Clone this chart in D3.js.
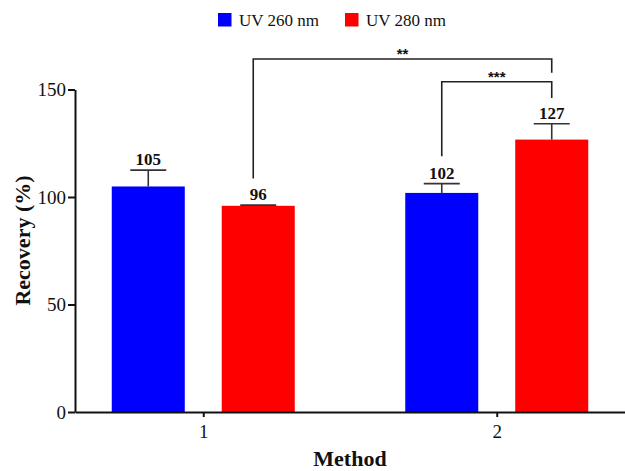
<!DOCTYPE html>
<html>
<head>
<meta charset="utf-8">
<script src="https://cdn.jsdelivr.net/npm/d3@7"></script>
<style>
  html, body { margin: 0; padding: 0; background: #fff; }
  svg { display: block; }
</style>
</head>
<body>
<svg id="chart" width="625" height="471"></svg>
<script>
// ---- data ----
const categories = ["1", "2"];
const seriesNames = ["UV 260 nm", "UV 280 nm"];
const seriesColors = ["#0000FF", "#FF0000"];
const uv260 = [104.9, 101.9];
const uv280 = [95.9, 126.7];
const uv260Err = [7.6, 4.3];
const uv280Err = [0.3, 7.4];
const yTicks = [0, 50, 100, 150];
const sigLabels = ["**", "***"];
// [category, series] of each bracket end
const sigFrom = [["1", "UV 280 nm"], ["2", "UV 260 nm"]];
const sigTo = [["2", "UV 280 nm"], ["2", "UV 280 nm"]];
const sigLevel = [164.2, 153.6];      // bracket top (data units)
const sigFromBottom = [108.6, 119.0]; // left leg end
const sigToBottom = [157.8, 146.0];   // right leg end

const values = [uv260, uv280];
const errors = [uv260Err, uv280Err];
const rows = [];
seriesNames.forEach((s, si) => categories.forEach((c, ci) => {
  rows.push({ cat: c, series: s, si, value: values[si][ci], err: errors[si][ci] });
}));

// ---- layout ----
const svg = d3.select("#chart");
const serif = "Liberation Serif, Times New Roman, serif";

const x = d3.scalePoint().domain(categories).range([75, 625]).padding(0.437);
const xs = d3.scaleBand().domain(seriesNames).range([-91.5, 91.5]).paddingInner(0.336);
const y = d3.scaleLinear().domain([0, 150]).range([412, 89.5]);

const barX = (c, s) => x(c) + xs(s);
const barCenter = (c, s) => barX(c, s) + xs.bandwidth() / 2;

// bars
svg.append("g").selectAll("rect").data(rows).join("rect")
  .attr("x", d => barX(d.cat, d.series))
  .attr("y", d => y(d.value))
  .attr("width", xs.bandwidth())
  .attr("height", d => y(0) - y(d.value))
  .attr("fill", d => seriesColors[d.si]);

// error bars
const eb = svg.append("g").attr("stroke", "#333").attr("stroke-width", 1.6);
rows.forEach(d => {
  const cx = barCenter(d.cat, d.series);
  eb.append("line").attr("x1", cx).attr("x2", cx)
    .attr("y1", y(d.value)).attr("y2", y(d.value + d.err));
  eb.append("line").attr("x1", cx - 18).attr("x2", cx + 18)
    .attr("y1", y(d.value + d.err)).attr("y2", y(d.value + d.err));
});

// value labels
svg.append("g").selectAll("text").data(rows).join("text")
  .attr("x", d => barCenter(d.cat, d.series))
  .attr("y", d => y(d.value + d.err) - 5)
  .attr("text-anchor", "middle")
  .style("font-family", serif)
  .attr("font-weight", "bold")
  .attr("font-size", 17)
  .attr("fill", "#111")
  .text(d => d3.format(".0f")(d.value));

// y axis
const yAxis = svg.append("g").attr("transform", "translate(75,0)")
  .call(d3.axisLeft(y).tickValues(yTicks).tickSize(7).tickSizeOuter(0).tickPadding(2));
yAxis.attr("font-family", null).style("font-family", serif);
yAxis.select(".domain").attr("stroke", "#111").attr("stroke-width", 2);
yAxis.selectAll(".tick line").attr("stroke", "#111").attr("stroke-width", 2);
yAxis.selectAll(".tick text").style("font-family", serif).attr("font-size", 19).attr("fill", "#111");

// x axis
const xAxis = svg.append("g").attr("transform", `translate(0,${y(0)})`)
  .call(d3.axisBottom(x).tickSize(5).tickSizeOuter(0).tickPadding(7.5));
xAxis.attr("font-family", null).style("font-family", serif);
xAxis.select(".domain").attr("stroke", "#111").attr("stroke-width", 2);
xAxis.selectAll(".tick line").attr("stroke", "#111").attr("stroke-width", 2);
xAxis.selectAll(".tick text").style("font-family", serif).attr("font-size", 19).attr("fill", "#111");

// axis titles
svg.append("text")
  .attr("transform", "translate(30,240.5) rotate(-90)")
  .attr("text-anchor", "middle")
  .style("font-family", serif).attr("font-weight", "bold").attr("font-size", 22)
  .attr("fill", "#111")
  .text("Recovery (%)");
svg.append("text")
  .attr("x", 350).attr("y", 465.5)
  .attr("text-anchor", "middle")
  .style("font-family", serif).attr("font-weight", "bold").attr("font-size", 22)
  .attr("fill", "#111")
  .text("Method");

// significance brackets
const sg = svg.append("g");
sigLabels.forEach((lab, i) => {
  const x1 = barCenter(sigFrom[i][0], sigFrom[i][1]) - (i === 0 ? 5 : 0);
  const x2 = barCenter(sigTo[i][0], sigTo[i][1]);
  const yl = y(sigLevel[i]);
  sg.append("path")
    .attr("d", `M${x1},${y(sigFromBottom[i])}V${yl}H${x2}V${y(sigToBottom[i])}`)
    .attr("fill", "none").attr("stroke", "#222").attr("stroke-width", 1.6);
  sg.append("text")
    .attr("x", (x1 + x2) / 2).attr("y", yl + 0.5)
    .attr("text-anchor", "middle")
    .style("font-family", "Liberation Sans, Arial, sans-serif")
    .attr("font-weight", "bold").attr("font-size", 15)
    .attr("fill", "#111")
    .text(lab);
});

// legend
const legendX = [218, 345];
const lg = svg.append("g");
seriesNames.forEach((s, i) => {
  lg.append("rect").attr("x", legendX[i]).attr("y", 13).attr("width", 13.5).attr("height", 13.5)
    .attr("fill", seriesColors[i]);
  lg.append("text").attr("x", legendX[i] + 21).attr("y", 26)
    .style("font-family", serif).attr("font-size", 17).attr("fill", "#111")
    .text(s);
});
</script>
</body>
</html>
